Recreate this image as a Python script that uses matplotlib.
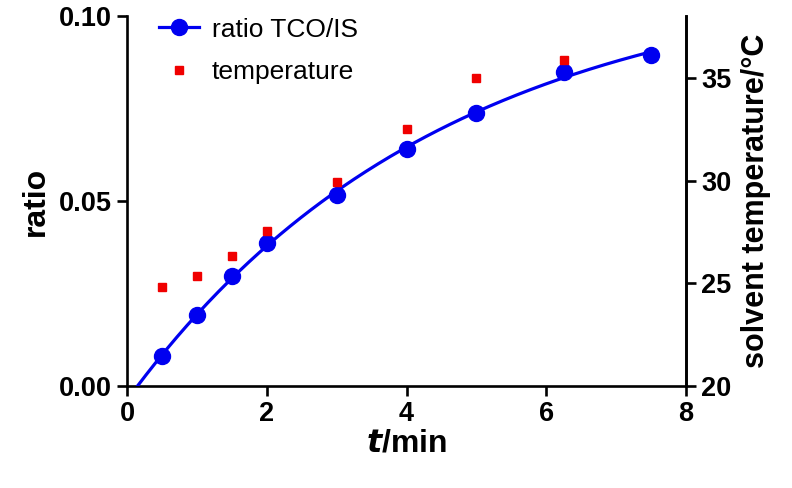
import numpy as np
import matplotlib
matplotlib.use("Agg")
import matplotlib.pyplot as plt
from matplotlib.ticker import FormatStrFormatter

# podaci ocitani sa slike
t_ratio = [0.5, 1.0, 1.5, 2.0, 3.0, 4.0, 5.0, 6.25, 7.5]
ratio = [0.0081, 0.0192, 0.0298, 0.0386, 0.0516, 0.0641, 0.0739, 0.0850, 0.0895]

t_temp = [0.5, 1.0, 1.5, 2.0, 3.0, 4.0, 5.0, 6.25]
temperature = [24.8, 25.35, 26.35, 27.55, 29.95, 32.5, 35.0, 35.85]

x_ticks = [0, 2, 4, 6, 8]
ratio_ticks = [0.00, 0.05, 0.10]
temp_ticks = [20, 25, 30, 35]


def fit_association(t, y):
    """Fit y = A*(1 - exp(-k*(t - t0))) grid search po k i t0, A linearno."""
    t = np.asarray(t)
    y = np.asarray(y)
    best = None
    for k in np.linspace(0.05, 0.6, 221):
        for t0 in np.linspace(-0.3, 0.4, 71):
            g = 1 - np.exp(-k * (t - t0))
            A = np.dot(g, y) / np.dot(g, g)
            err = np.sum((A * g - y) ** 2)
            if best is None or err < best[0]:
                best = (err, A, k, t0)
    return best[1:]


plt.rcParams['font.family'] = ['Liberation Sans', 'DejaVu Sans']

fig = plt.figure(figsize=(7.92, 4.88), dpi=100)
ax = fig.add_axes([0.1604, 0.209, 0.7058, 0.758])
ax2 = ax.twinx()

A, k, t0 = fit_association(t_ratio, ratio)
tt = np.linspace(t0, max(t_ratio), 300)
fit = A * (1 - np.exp(-k * (tt - t0)))

blue = '#0000f0'
red = '#f00000'
ax.plot(tt, fit, color=blue, lw=2.3, zorder=3)
ax.plot(t_ratio, ratio, 'o', color=blue, ms=11.5, zorder=4)
ax2.plot(t_temp, temperature, 's', color=red, ms=6, zorder=2)

ax.set_xlim(0, 8)
ax.set_ylim(0, 0.10)
ax2.set_ylim(20, 38)
ax.set_xticks(x_ticks)
ax.set_yticks(ratio_ticks)
ax2.set_yticks(temp_ticks)
ax.yaxis.set_major_formatter(FormatStrFormatter('%.2f'))

for a in (ax, ax2):
    a.spines['top'].set_visible(False)
    for s in a.spines.values():
        s.set_linewidth(1.9)
    a.tick_params(width=1.9, length=7, labelsize=19.5, pad=4)
    for lbl in a.get_xticklabels() + a.get_yticklabels():
        lbl.set_fontweight('bold')
ax2.spines['left'].set_visible(False)
ax2.spines['bottom'].set_visible(False)

ax.set_xlabel(r'$\bfit{t}$/min', fontsize=23, fontweight='bold', labelpad=1)
ax.set_ylabel('ratio', fontsize=23, fontweight='bold', labelpad=6)
ax2.set_ylabel('solvent temperature/°C', fontsize=22, fontweight='bold', labelpad=7)

h1 = ax.plot([], [], '-o', color=blue, lw=2.3, ms=11.5)[0]
h2 = ax2.plot([], [], 's', color=red, ms=6)[0]
ax.legend([h1, h2], ['ratio TCO/IS', 'temperature'], loc='upper left',
          bbox_to_anchor=(0.015, 1.06), frameon=False, fontsize=19,
          handlelength=1.5, labelspacing=0.7, handletextpad=0.5)

fig.savefig('out.png', dpi=100)
